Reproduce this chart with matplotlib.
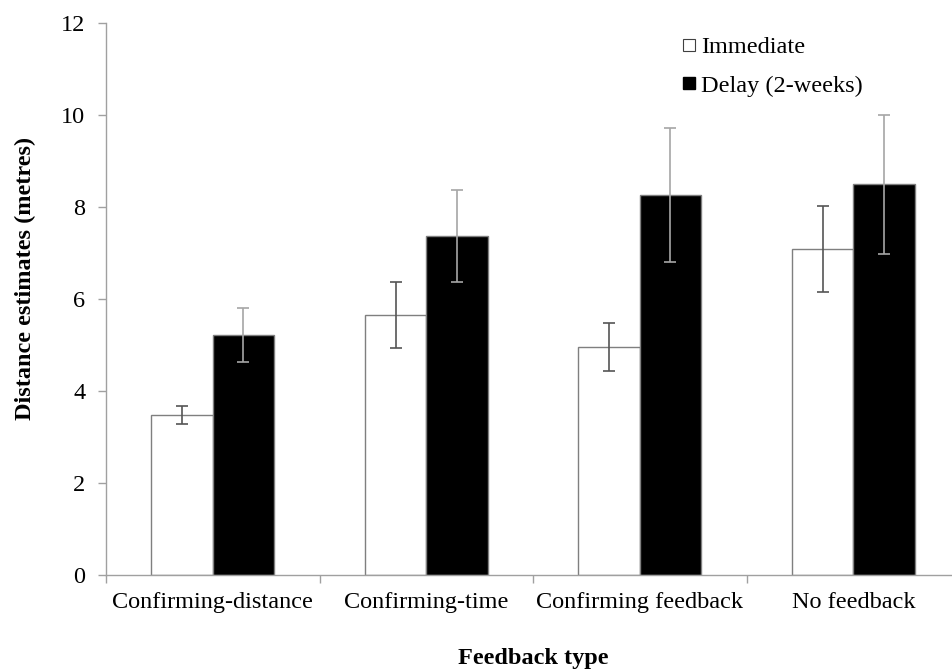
import matplotlib
matplotlib.use("Agg")
import matplotlib.pyplot as plt
import numpy as np
from matplotlib.lines import Line2D

categories = ["Confirming-distance", "Confirming-time", "Confirming feedback", "No feedback"]
immediate = [3.48, 5.65, 4.96, 7.09]
immediate_err = [0.19, 0.71, 0.52, 0.94]
delay = [5.22, 7.38, 8.26, 8.49]
delay_err = [0.58, 1.0, 1.46, 1.51]
series_names = ["Immediate", "Delay (2-weeks)"]
yticks = [0, 2, 4, 6, 8, 10, 12]

plt.rcParams['font.family'] = ['Liberation Serif', 'DejaVu Serif']
FS = 17.5

fig = plt.figure(figsize=(9.52, 6.69), dpi=100)
ax = fig.add_axes([106/952, 1-575/669, (960-106)/952, (575-23)/669])

x = np.arange(len(categories))
w = 0.288
ax.bar(x - w/2, immediate, width=w, color='white', edgecolor='#7f7f7f', linewidth=1.0, zorder=2)
ax.bar(x + w/2, delay, width=w, color='black', edgecolor='#7f7f7f', linewidth=1.0, zorder=2)
ax.errorbar(x - w/2, immediate, yerr=immediate_err, fmt='none', ecolor='#555555',
            elinewidth=1.2, capsize=4, capthick=1.2, zorder=3)
ax.errorbar(x + w/2, delay, yerr=delay_err, fmt='none', ecolor='#a6a6a6',
            elinewidth=1.2, capsize=4, capthick=1.2, zorder=3)

ax.set_xlim(-0.5, len(categories) - 0.5)
ax.set_ylim(0, 12)
ax.set_yticks(yticks)
ax.set_yticklabels([str(t) for t in yticks], fontsize=FS)
ax.set_xticks(x)
ax.set_xticklabels(categories, fontsize=FS)
ax.tick_params(axis='x', length=0, pad=12)
ax.set_xticks(np.arange(len(categories) + 1) - 0.5, minor=True)
ax.tick_params(axis='x', which='minor', length=6, color='#a0a0a0', width=1)
ax.tick_params(axis='y', length=6, color='#a0a0a0', width=1, pad=9)

for s in ['top', 'right']:
    ax.spines[s].set_visible(False)
for s in ['left', 'bottom']:
    ax.spines[s].set_color('#a0a0a0')
    ax.spines[s].set_linewidth(1.0)

ax.set_ylabel("Distance estimates (metres)", fontsize=FS, fontweight='bold')
ax.yaxis.set_label_coords(-(106-25)/854, (575-278)/552)
ax.yaxis.label.set_va('center')
fig.text(533/952, 1-664/669, "Feedback type", fontsize=FS, fontweight='bold',
         ha='center', va='baseline')

handles = [
    Line2D([], [], marker='s', linestyle='none', markersize=8, markerfacecolor='white',
           markeredgecolor='#404040', markeredgewidth=0.8),
    Line2D([], [], marker='s', linestyle='none', markersize=8, markerfacecolor='black',
           markeredgecolor='black'),
]
leg = ax.legend(handles, series_names, loc='upper left', bbox_to_anchor=(0.664, 0.994),
                frameon=False, fontsize=FS, handlelength=0.5, handletextpad=0.25,
                labelspacing=0.68, borderaxespad=0)

fig.savefig("out.png", dpi=100)
